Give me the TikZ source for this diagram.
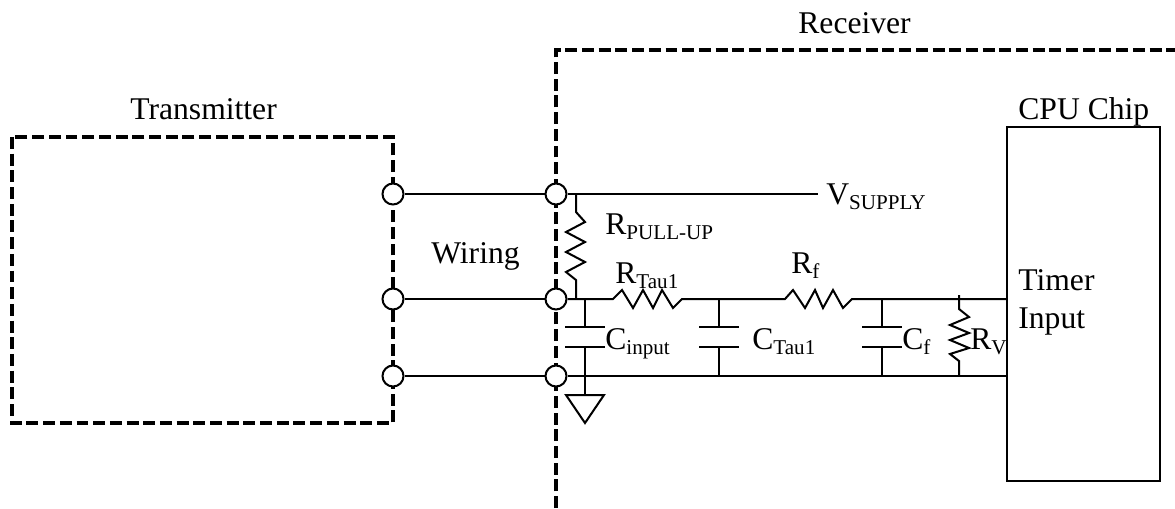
\documentclass[tikz,border=0pt]{standalone}
\usepackage{fontspec}
\setmainfont{Liberation Serif}
\usetikzlibrary{arrows}
\newcommand{\lowtxt}[1]{\raisebox{-3.2pt}{\fontsize{12}{12}\selectfont #1}}
\tikzset{
  wire/.style={line width=1.15pt},
  dashbox/.style={line width=1.8pt,dash pattern=on 6.8pt off 2.7pt},
  term/.style={circle,draw,fill=white,line width=1.15pt,minimum size=0.42cm,inner sep=0pt},
  lbl/.style={anchor=base west,inner sep=0pt,font=\fontsize{18}{18}\selectfont}
}
\begin{document}
\begin{tikzpicture}[line cap=butt,line join=miter,x=0.02cm,y=-0.02cm]
      \path[use as bounding box,clip] (0,0) rectangle (1175,508);
      \draw [dashbox] (12,137) rectangle (393,423);
      \draw [dashbox] (556,508)-- (556,50)-- (1175,50);
      \draw [line width=1.25pt] (1007,127) rectangle (1160,481);
      % terminals
      \node [term] (ttop) at (393,194) {};
      \node [term] (tmid) at (393,299) {};
      \node [term] (tbot) at (393,376) {};
      \node [term] (rtop) at (556,194) {};
      \node [term] (rmid) at (556,299) {};
      \node [term] (rbot) at (556,376) {};
      % junctions
      \coordinate (supply) at (818,194);
      \coordinate (jpuA) at (576,194);
      \coordinate (jpuB) at (576,299);
      \coordinate (jin) at (585,299);
      \coordinate (jinb) at (585,376);
      \coordinate (jtau) at (719,299);
      \coordinate (jtaub) at (719,376);
      \coordinate (jf) at (882,299);
      \coordinate (jfb) at (882,376);
      \coordinate (jv) at (959,295);
      \coordinate (jvb) at (959,376);
      \coordinate (cpumid) at (1007,299);
      \coordinate (cpubot) at (1007,376);
      \coordinate (gnd) at (585,395);
      % wiring
      \draw [wire] (ttop)-- (rtop);
      \draw [wire] (tmid)-- (rmid);
      \draw [wire] (tbot)-- (rbot);
      \draw [wire] (rtop)-- (supply);
      \draw [wire] (rbot)-- (cpubot);
      % main line with RTau1 and Rf
      \draw [wire] (rmid)-- (613,299)-- (622,290)-- (633,308)-- (643,290)-- (653,308)-- (662,290)-- (673,308)-- (682,299)-- (jtau)-- (785,299)-- (793,290)-- (805,308)-- (815,290)-- (823,308)-- (833,290)-- (843,308)-- (852,299)-- (jf)-- (cpumid);
      % pull-up
      \draw [wire] (jpuA)-- (576,212)-- (585,222)-- (566,232)-- (585,242)-- (566,252)-- (585,262)-- (566,272)-- (576,280)-- (jpuB);
      % RV
      \draw [wire] (jv)-- (959,309)-- (969,317)-- (950,325)-- (969,333)-- (950,340)-- (969,348)-- (950,354)-- (959,361)-- (jvb);
      % capacitors
      \draw [wire] (jin)-- (585,327);
      \draw [wire] (565,327)-- (605,327);
      \draw [wire] (565,347)-- (605,347);
      \draw [wire] (585,347)-- (gnd);
      \draw [wire] (jtau)-- (719,327);
      \draw [wire] (699,327)-- (739,327);
      \draw [wire] (699,347)-- (739,347);
      \draw [wire] (719,347)-- (jtaub);
      \draw [wire] (jf)-- (882,327);
      \draw [wire] (862,327)-- (902,327);
      \draw [wire] (862,347)-- (902,347);
      \draw [wire] (882,347)-- (jfb);
      % ground
      \draw [wire] (566,395)-- (604,395)-- (585,423)-- cycle;
      % labels
      \node [lbl] (receiver) at (798,33) {Receiver};
      \node [lbl] (transmitter) at (130,119) {Transmitter};
      \node [lbl] (cpuchip) at (1018,119) {CPU Chip};
      \node [lbl] (wiring) at (431,263) {Wiring};
      \node [lbl] (vsupply) at (826,204) {V\lowtxt{SUPPLY}};
      \node [lbl] (rpullup) at (605,234) {R\lowtxt{PULL-UP}};
      \node [lbl] (rtauone) at (615,283) {R\lowtxt{Tau1}};
      \node [lbl] (rfilt) at (791,273) {R\lowtxt{f}};
      \node [lbl] (cinput) at (605,349) {C\lowtxt{input}};
      \node [lbl] (ctauone) at (752,349) {C\lowtxt{Tau1}};
      \node [lbl] (cfilt) at (902,349) {C\lowtxt{f}};
      \node [lbl] (rv) at (970,349) {R\lowtxt{V}};
      \node [lbl] (timer) at (1018,290) {Timer};
      \node [lbl] (input) at (1018,328) {Input};
\end{tikzpicture}
\end{document}
